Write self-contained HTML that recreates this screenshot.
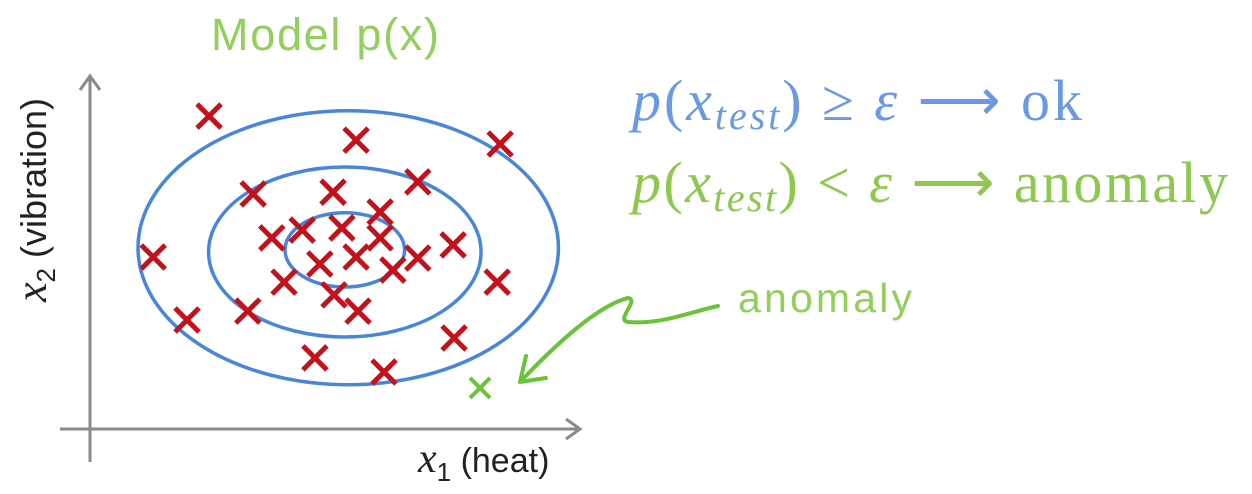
<!DOCTYPE html>
<html><head><meta charset="utf-8"><style>
body{margin:0;background:#fff;}
svg{display:block}
</style></head><body>
<svg id="chart" width="1252" height="494" viewBox="0 0 1252 494">
<text x="325" y="50" text-anchor="middle" textLength="228" font-family="Liberation Sans, sans-serif" font-size="45" fill="#93cf5c">Model p(x)</text>
<g stroke="#8a8a8a" stroke-width="3" fill="none">
<line x1="90" y1="462" x2="90" y2="76"/>
<polyline points="80,90 90,76 100,90"/>
<line x1="60" y1="429" x2="580" y2="429"/>
<polyline points="566,419 580,429 566,439"/>
</g>
<text transform="translate(46,200) rotate(-90)" text-anchor="middle" font-family="Liberation Sans, sans-serif" font-size="36" fill="#222"><tspan font-family="Liberation Serif, serif" font-style="italic" font-size="44">x</tspan><tspan font-size="26" dy="9">2</tspan><tspan dy="-9"> (vibration)</tspan></text>
<text x="418" y="472" font-family="Liberation Sans, sans-serif" font-size="34" fill="#222"><tspan font-family="Liberation Serif, serif" font-style="italic" font-size="42">x</tspan><tspan font-size="26" dy="9">1</tspan><tspan dy="-9"> (heat)</tspan></text>
<g id="contours"></g>
<g id="points"></g>
<g font-family="Liberation Serif, serif" font-size="58">
<text x="632" y="120" textLength="450" lengthAdjust="spacing" fill="#6a9ae6"><tspan font-style="italic">p</tspan>(<tspan font-style="italic">x</tspan><tspan font-style="italic" font-size="40" dy="9">test</tspan><tspan dy="-9">) ≥ </tspan><tspan font-style="italic">ε</tspan> ⟶ ok</text>
<text x="632" y="202" textLength="596" lengthAdjust="spacing" fill="#8ec84e"><tspan font-style="italic">p</tspan>(<tspan font-style="italic">x</tspan><tspan font-style="italic" font-size="40" dy="9">test</tspan><tspan dy="-9">) &lt; </tspan><tspan font-style="italic">ε</tspan> ⟶ anomaly</text>
</g>
<text x="738" y="312" textLength="174" font-family="Liberation Sans, sans-serif" font-size="41" fill="#93cf5c">anomaly</text>
<path d="M718,306 C690,312 660,325 628,322 C615,320 640,300 628,298 C600,305 560,340 522,380" stroke="#6cc23a" stroke-width="4" fill="none" stroke-linecap="round"/>
<polyline points="526,356 520,382 546,378" stroke="#6cc23a" stroke-width="4" fill="none" stroke-linecap="round" stroke-linejoin="round"/>
</svg>
<script>
const xs = [24.3,54.3,83.7,33.3,49.6,66.9,59.2,37.1,43.3,51.4,59.2,74.1,12.9,46.9,54.3,66.9,61.8,39.6,49.8,54.7,83.1,19.8,32.2,74.3,45.9,60.0];
const ys = [88.4,81.6,80.5,66.4,66.9,69.8,61.3,54.0,56.2,56.8,54.0,52.0,48.6,46.6,48.6,48.3,44.9,41.5,37.9,33.3,41.5,30.8,33.3,25.7,20.1,16.1];
const anomalyX = [79.6];
const anomalyY = [11.6];
const contourCx = [52.7, 52.0, 52.0];
const contourCy = [51.2, 50.0, 50.6];
const contourRx = [42.9, 27.8, 12.2];
const contourRy = [38.7, 24.0, 10.5];
function sx(v){return 90+v*4.9;}
function sy(v){return 429-v*3.54;}
const NS='http://www.w3.org/2000/svg';
const cg=document.getElementById('contours');
for(let i=0;i<contourCx.length;i++){
  const e=document.createElementNS(NS,'ellipse');
  e.setAttribute('cx',sx(contourCx[i]));e.setAttribute('cy',sy(contourCy[i]));
  e.setAttribute('rx',contourRx[i]*4.9);e.setAttribute('ry',contourRy[i]*3.54);
  e.setAttribute('fill','none');e.setAttribute('stroke','#4a86d8');e.setAttribute('stroke-width','3.5');
  
  
  cg.appendChild(e);
}
const pg=document.getElementById('points');
function cross(x,y,r,color,w,name){
  const p=document.createElementNS(NS,'path');
  p.setAttribute('d',`M${x-r},${y-r}L${x+r},${y+r}M${x+r},${y-r}L${x-r},${y+r}`);
  p.setAttribute('stroke',color);p.setAttribute('stroke-width',w);
  
  
  pg.appendChild(p);
}
for(let i=0;i<xs.length;i++) cross(sx(xs[i]),sy(ys[i]),12,'#c3121c',5,'normal-point');
for(let i=0;i<anomalyX.length;i++) cross(sx(anomalyX[i]),sy(anomalyY[i]),10,'#6cc23a',4,'anomaly-point');
</script>
</body></html>
